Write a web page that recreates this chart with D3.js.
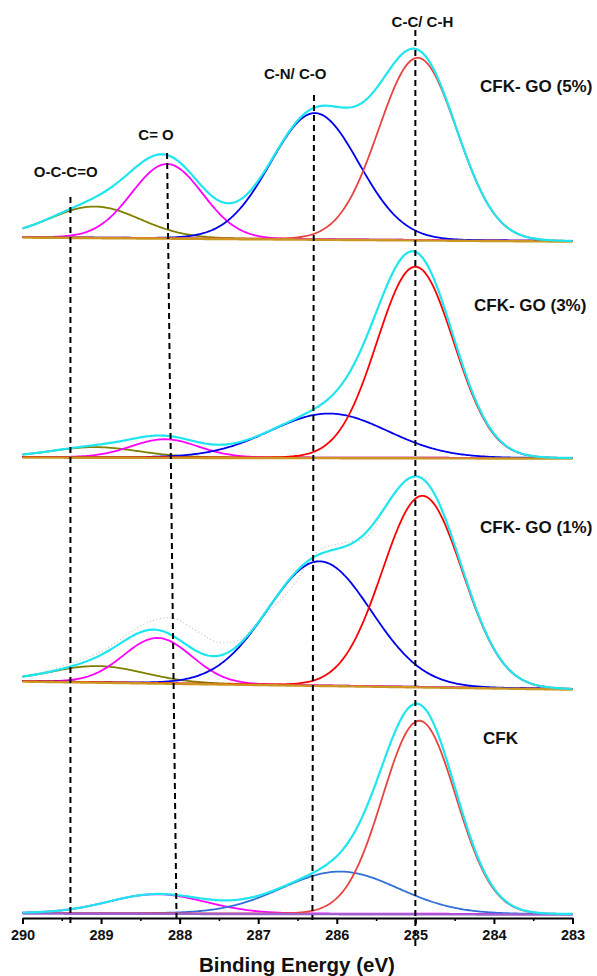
<!DOCTYPE html>
<html>
<head>
<meta charset="utf-8">
<script src="https://cdn.jsdelivr.net/npm/d3@7"></script>
<style>
  body { margin: 0; background: #fff; }
  text { font-family: "Liberation Sans", Arial, sans-serif; font-weight: bold; fill: #111; }
</style>
</head>
<body>
<div id="chart"></div>
<script>
// DATA (C1s fit components, top panel first)
// ---------------------------------------------------------------------------------------------
const panelNames = ["CFK- GO (5%)", "CFK- GO (3%)", "CFK- GO (1%)", "CFK"];
const panelOffsets = [673, 456, 225, 0];      // stacking offset (counts)
const bgLeft = [4, 1, 8, 1];                  // background at 290 eV
const bgRight = [0, 0, 0, 0];                 // background at 283 eV

const componentNames = ["O-C-C=O", "C=O", "C-N/C-O", "C-C/C-H"];
const centers = [
  [289.08, 288.16, 286.28, 284.97],
  [289.08, 288.19, 286.10, 285.00],
  [289.04, 288.28, 286.22, 284.91],
  [289.00, 288.29, 285.96, 284.95]
];
const heights = [
  [31, 74, 126, 182],
  [10, 18, 44, 191],
  [16, 45, 124, 191],
  [0, 19, 42, 193]
];
const fwhms = [
  [1.35, 1.06, 1.32, 1.17],
  [1.30, 1.00, 1.76, 1.15],
  [1.40, 1.02, 1.55, 1.20],
  [1.30, 1.45, 1.74, 1.10]
];

// raw spectrum (dotted) visible in the 1% panel
const rawEnergy = [290.0, 289.65, 289.01, 288.42, 288.10, 287.74, 287.53, 287.23, 287.02, 286.60,
                   286.22, 285.92, 285.62, 285.41, 285.20, 285.00, 284.80];
const rawCounts = [12, 19, 37, 66, 71, 56, 47, 49, 66, 99, 139, 146, 152, 176, 202, 213, 209];

const refNames = ["O-C-C=O", "C= O", "C-N/ C-O", "C-C/ C-H"];
const refTop = [289.39, 288.16, 286.29, 285.0];
const refBottom = [289.39, 288.04, 286.31, 285.0];
const refLabelAt = [289.45, 288.30, 286.53, 284.91];

const tickValues = [290, 289, 288, 287, 286, 285, 284, 283];
const minorTicks = [289.5, 288.5, 287.5, 286.5, 285.5, 284.5, 283.5];

// STYLES
// ---------------------------------------------------------------------------------------------
const compColors = [
  ["#808000", "#ff00ff", "#0000ee", "#e84440"],
  ["#808000", "#ff00ff", "#0000ee", "#ff0000"],
  ["#808000", "#ff00ff", "#0000ee", "#ff0000"],
  ["#808000", "#ff00ff", "#3070d8", "#e84440"]
];
const bgColors = ["#cc9620", "#cc9620", "#cc9620", "#a060d0"];
const envColor = "#1ee6f0";

// SCALES
// ---------------------------------------------------------------------------------------------
const W = 597, H = 976;
const x = d3.scaleLinear().domain([290, 283]).range([22.5, 572.5]);
const y = d3.scaleLinear().domain([0, 900]).range([914, 14]);

const svg = d3.select("#chart").append("svg")
  .attr("width", W)
  .attr("height", H);

const grid = d3.range(290, 282.999, -0.02);
const gauss = (e, c, h, w) => {
  const s = w / 2.3548;
  return h * Math.exp(-0.5 * ((e - c) / s) ** 2);
};
const line = d3.line().x(d => x(d[0])).y(d => y(d[1]));

// PANELS
// ---------------------------------------------------------------------------------------------
panelNames.forEach((name, p) => {
  const off = panelOffsets[p];
  const bg = e => bgLeft[p] + (bgRight[p] - bgLeft[p]) * (290 - e) / 7;
  const g = svg.append("g");

  // raw data
  if (p === 2) {
    g.append("path")
      .attr("d", d3.line().curve(d3.curveCatmullRom).x(d => x(d[0])).y(d => y(d[1]))(
        rawEnergy.map((e, i) => [e, off + rawCounts[i]])))
      .attr("fill", "none")
      .attr("stroke", "#c4c4c4")
      .attr("stroke-width", 1.2)
      .attr("stroke-dasharray", "1,2.5");
  }

  // components
  componentNames.forEach((c, k) => {
    if (heights[p][k] <= 0) return;
    g.append("path")
      .attr("d", line(grid.map(e => [e, off + bg(e) + gauss(e, centers[p][k], heights[p][k], fwhms[p][k])])))
      .attr("fill", "none")
      .attr("stroke", compColors[p][k])
      .attr("stroke-width", 1.8);
  });

  // background on top of the component tails
  g.append("path")
    .attr("d", line(grid.map(e => [e, off + bg(e) - 0.6])))
    .attr("fill", "none")
    .attr("stroke", bgColors[p])
    .attr("stroke-width", 2.4);

  // envelope
  g.append("path")
    .attr("d", line(grid.map(e => [e, off + bg(e) +
      d3.sum(componentNames, (c, k) => gauss(e, centers[p][k], heights[p][k], fwhms[p][k]))])))
    .attr("fill", "none")
    .attr("stroke", envColor)
    .attr("stroke-width", 2.2);
});

// PANEL LABELS
// ---------------------------------------------------------------------------------------------
const panelLabelX = [480, 474, 480, 483];
const panelLabelY = [92, 311, 533, 744];
panelNames.forEach((name, p) => {
  svg.append("text")
    .attr("x", panelLabelX[p])
    .attr("y", panelLabelY[p])
    .attr("font-size", "17px")
    .text(name);
});

// REFERENCE LINES
// ---------------------------------------------------------------------------------------------
const refY1 = [197, 153, 95, 30];
const refY2 = [925, 918, 920, 948];
const refLabelY = [177, 140, 79, 27];
refNames.forEach((n, i) => {
  svg.append("line")
    .attr("x1", x(refTop[i])).attr("y1", refY1[i])
    .attr("x2", x(refBottom[i])).attr("y2", refY2[i])
    .attr("stroke", "#000")
    .attr("stroke-width", 2)
    .attr("stroke-dasharray", "6,4");
  svg.append("text")
    .attr("x", x(refLabelAt[i]))
    .attr("y", refLabelY[i])
    .attr("text-anchor", "middle")
    .attr("font-size", "15px")
    .text(n);
});

// AXIS
// ---------------------------------------------------------------------------------------------
const axisY = 918;
const ax = svg.append("g")
  .attr("transform", `translate(0,${axisY})`)
  .call(d3.axisBottom(x).tickValues(tickValues).tickFormat(d3.format("d")).tickSize(6).tickSizeOuter(0));
ax.select(".domain").attr("stroke-width", 2).attr("stroke", "#000");
ax.selectAll(".tick line").attr("stroke-width", 2);
ax.selectAll(".tick text")
  .attr("font-size", "14.5px")
  .attr("font-family", "Liberation Sans, Arial, sans-serif")
  .attr("font-weight", "bold")
  .attr("fill", "#111")
  .attr("dy", "0.9em");

svg.append("g")
  .attr("transform", `translate(0,${axisY})`)
  .call(d3.axisBottom(x).tickValues(minorTicks).tickFormat("").tickSize(3).tickSizeOuter(0))
  .call(s => s.select(".domain").remove())
  .selectAll(".tick line").attr("stroke-width", 1.5);

svg.append("text")
  .attr("x", 297)
  .attr("y", 972)
  .attr("text-anchor", "middle")
  .attr("font-size", "20.5px")
  .text("Binding Energy (eV)");
</script>
</body>
</html>
